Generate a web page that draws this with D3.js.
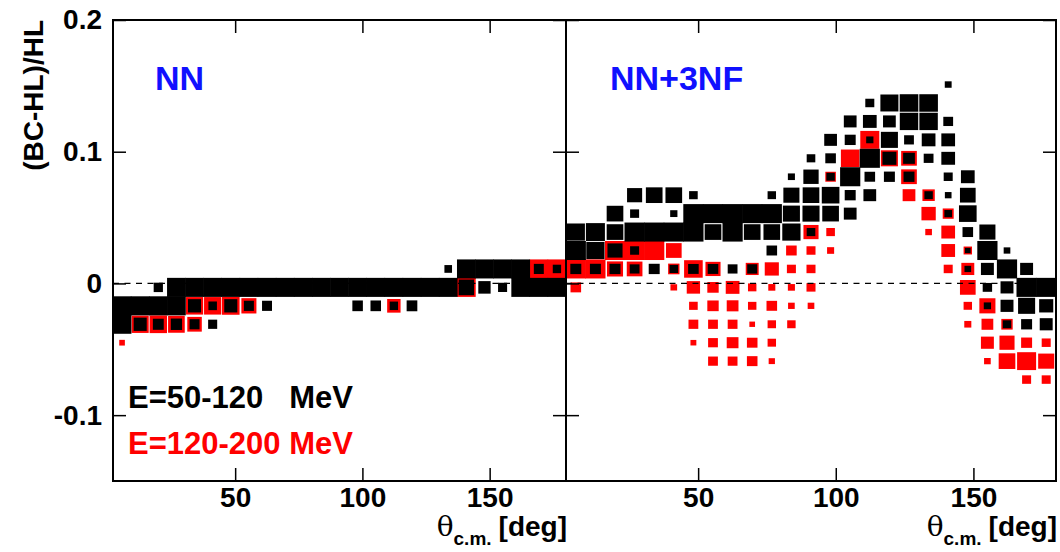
<!DOCTYPE html>
<html><head><meta charset="utf-8">
<script src="https://cdn.jsdelivr.net/npm/d3@7"></script>
<style>
body{margin:0;background:#fff}
svg text{font-family:"Liberation Sans",Arial,Helvetica,sans-serif;font-weight:bold}
</style>
</head><body>
<svg id="c" width="1060" height="552"></svg>
<script>
// ---- bin categories (centres) ----
const thetaCenters = [5.56,12.68,19.80,26.92,34.04,41.16,48.28,55.40,62.52,69.64,76.76,83.88,91.00,98.12,105.24,112.36,119.48,126.60,133.72,140.84,147.96,155.08,162.20,169.32,176.44];
const deltaCenters = [-0.143,-0.129,-0.115,-0.101,-0.087,-0.073,-0.059,-0.045,-0.031,-0.017,-0.003,0.011,0.025,0.039,0.053,0.067,0.081,0.095,0.109,0.123,0.137,0.151,0.165,0.179,0.193];
const thetaBinWidth = 7.12;
const deltaBinWidth = 0.014;
const xTicks = [50,100,150];
const yTicks = [0.2,0.1,0,-0.1];
const yTickLabels = ["0.2","0.1","0","-0.1"];
const panelLabels = ["NN","NN+3NF"];
const legendLabels = ["E=50-120   MeV","E=120-200 MeV"];

// cells: [theta bin, delta bin, relative box size]
const nnLow = [
 [18,11,.42],[19,11,1],[20,11,1],[21,11,1],[22,11,1],[23,11,.55],[24,11,.46],
 [2,10,.51],[3,10,1],[4,10,1],[5,10,1],[6,10,1],[7,10,1],[8,10,1],[9,10,1],[10,10,1],[11,10,1],[12,10,1],[13,10,1],[14,10,1],[15,10,1],[16,10,1],[17,10,1],[18,10,1],
 [19,10,.85],[20,10,.68],[21,10,.5],[22,10,1],[23,10,1],[24,10,1],
 [0,9,1],[1,9,1],[2,9,1],[3,9,1],[4,9,.72],[5,9,.47],[6,9,.72],[7,9,.55],[8,9,.55],[13,9,.58],[14,9,.58],[15,9,.46],[16,9,.59],
 [0,8,1],[1,8,.72],[2,8,.6],[3,8,.62],[4,8,.55],[5,8,.5]
];
const nnHigh = [
 [23,11,1],[24,11,1],[19,10,1],[4,9,.95],[5,9,.95],[6,9,.97],[7,9,.83],[15,9,.74],
 [1,8,.94],[2,8,.96],[3,8,.92],[4,8,.8],[0,7,.31]
];
const nn3nfLow = [
 [19,21,.35],
 [15,20,.46],[16,20,.92],[17,20,.95],[18,20,.95],
 [14,19,.65],[15,19,.7],[16,19,.65],[17,19,.94],[18,19,.94],[19,19,.5],
 [13,18,.65],[14,18,.56],[15,18,.37],[16,18,.87],[17,18,.5],[18,18,.7],[19,18,.7],
 [12,17,.44],[13,17,.54],[15,17,1],[16,17,.71],[17,17,.6],[18,17,.5],[19,17,.7],
 [11,16,.36],[12,16,.78],[13,16,.43],[14,16,1],[15,16,.54],[16,16,.56],[17,16,.56],[19,16,.46],[20,16,.7],
 [3,15,.77],[4,15,.85],[5,15,.85],[6,15,.44],[10,15,.43],[11,15,.82],[12,15,.85],[13,15,.9],[14,15,.56],[15,15,.65],[18,15,.43],[19,15,.34],[20,15,.8],
 [2,14,.85],[3,14,.46],[5,14,.37],[6,14,1],[7,14,1],[8,14,1],[9,14,1],[10,14,1],[11,14,.87],[12,14,.87],[13,14,.85],[14,14,.65],[19,14,.39],[20,14,.9],
 [0,13,.93],[1,13,.97],[2,13,.85],[3,13,1],[4,13,1],[5,13,1],[6,13,1],[7,13,.85],[8,13,1],[9,13,.85],[10,13,.85],[11,13,.93],[12,13,.44],[20,13,.54],[21,13,.82],
 [0,12,1],[1,12,.93],[2,12,.77],[3,12,.46],[10,12,.54],[20,12,.29],[21,12,1],[22,12,.34],
 [0,11,.56],[1,11,.56],[2,11,.56],[3,11,.5],[4,11,.56],[5,11,.44],[6,11,.54],[7,11,.54],[8,11,.5],[9,11,.51],[20,11,.34],[21,11,.66],[22,11,1],[23,11,.66],
 [21,10,.48],[22,10,.66],[23,10,1],[24,10,1],
 [21,9,.37],[22,9,.66],[23,9,.87],[24,9,.72],
 [22,8,.43],[23,8,.56],[24,8,.66]
];
const nn3nfHigh = [
 [15,18,.97],
 [14,17,.95],[16,17,.87],[17,17,.8],
 [13,16,.54],[17,16,.8],
 [17,15,.65],[18,15,.63],
 [18,14,.73],[19,14,.56],
 [12,13,.77],[13,13,.44],[18,13,.34],[19,13,.7],
 [2,12,1],[3,12,1],[4,12,1],[5,12,.8],[11,12,.54],[12,12,.46],[13,12,.36],[19,12,.7],[20,12,.43],
 [0,11,1],[1,11,1],[2,11,.82],[3,11,.8],[5,11,.58],[6,11,.95],[7,11,.77],[9,11,.66],[10,11,.72],[11,11,.46],[12,11,.46],[19,11,.46],[20,11,.66],
 [0,10,.54],[5,10,.34],[6,10,.68],[7,10,.58],[8,10,.7],[9,10,.43],[10,10,.36],[11,10,.36],[12,10,.46],[20,10,.8],
 [6,9,.44],[7,9,.58],[8,9,.6],[9,9,.43],[10,9,.54],[11,9,.34],[12,9,.34],[20,9,.43],[21,9,.82],
 [6,8,.5],[7,8,.5],[8,8,.5],[9,8,.29],[10,8,.43],[11,8,.43],[20,8,.36],[21,8,.6],[22,8,.58],
 [6,7,.3],[7,7,.5],[8,7,.6],[9,7,.54],[10,7,.43],[21,7,.66],[22,7,.77],[23,7,.56],[24,7,.46],
 [7,6,.5],[8,6,.5],[9,6,.54],[10,6,.32],[21,6,.34],[22,6,.85],[23,6,.97],[24,6,.82],
 [23,5,.46],[24,5,.46]
];

const svg = d3.select("#c");
const frameTop = 20, frameBottom = 481;
const panels = [
  {x0:113, x1:566, low:nnLow, high:nnHigh, label:panelLabels[0], lx:155, yLabels:true},
  {x0:566, x1:1056, low:nn3nfLow, high:nn3nfHigh, label:panelLabels[1], lx:610, yLabels:false}
];
const y = d3.scaleLinear().domain([-0.15,0.2]).range([frameBottom, frameTop]);

panels.forEach(p => {
  const x = d3.scaleLinear().domain([2,180]).range([p.x0, p.x1]);
  const bw = x(thetaBinWidth) - x(0);
  const bh = y(0) - y(deltaBinWidth);
  const g = svg.append("g");
  const pad = s => (s >= .99 ? .6 : 0);
  const draw = (cells, color) => {
    g.selectAll(null).data(cells).enter().append("rect")
      .attr("x", d => x(thetaCenters[d[0]]) - (d[2]*bw + pad(d[2]))/2)
      .attr("y", d => y(deltaCenters[d[1]]) - (d[2]*bh + pad(d[2]))/2)
      .attr("width", d => d[2]*bw + pad(d[2]))
      .attr("height", d => d[2]*bh + pad(d[2]))
      .attr("fill", color);
  };
  draw(p.high, "#ff0000");
  draw(p.low, "#000000");

  // zero line
  g.append("line").attr("x1", p.x0).attr("x2", p.x1).attr("y1", y(0)).attr("y2", y(0))
    .attr("stroke", "#000").attr("stroke-width", 1.2).attr("stroke-dasharray", "6,5.5");

  // axes (ticks inside)
  const fmt = d3.format("d");
  const ab = g.append("g").attr("transform", `translate(0,${frameBottom})`)
    .call(d3.axisBottom(x).tickValues(xTicks).tickSize(-13).tickPadding(6).tickFormat(fmt));
  const at = g.append("g").attr("transform", `translate(0,${frameTop})`)
    .call(d3.axisTop(x).tickValues(xTicks).tickSize(-13).tickFormat(""));
  const al = g.append("g").attr("transform", `translate(${p.x0},0)`)
    .call(d3.axisLeft(y).tickValues(yTicks).tickSize(-13).tickPadding(11)
      .tickFormat((d,i) => p.yLabels ? yTickLabels[i] : ""));
  const ar = g.append("g").attr("transform", `translate(${p.x1},0)`)
    .call(d3.axisRight(y).tickValues(yTicks).tickSize(-13).tickFormat(""));
  [ab,at,al,ar].forEach(a => {
    a.select(".domain").remove();
    a.selectAll(".tick line").attr("stroke","#000").attr("stroke-width",1.5);
    a.selectAll("text").attr("font-size",28).attr("fill","#000")
      .style("font-family",'"Liberation Sans",Arial,sans-serif').style("font-weight","bold");
  });

  // frame
  g.append("rect").attr("x", p.x0).attr("y", frameTop).attr("width", p.x1-p.x0).attr("height", frameBottom-frameTop)
    .attr("fill","none").attr("stroke","#000").attr("stroke-width",2);

  // panel label
  g.append("text").attr("x", p.lx).attr("y", 90).attr("font-size", 34).attr("fill", "#1010ff").text(p.label);

  // x title
  const t = g.append("text").attr("x", p.x1 + 1).attr("y", 536).attr("text-anchor","end").attr("font-size",28).attr("fill","#000");
  t.append("tspan").style("font-family",'"DejaVu Serif","Liberation Serif",serif').style("font-weight","normal").attr("font-size",28).text("θ");
  t.append("tspan").attr("dy", 9).attr("font-size", 19).text("c.m.");
  t.append("tspan").attr("dy", -9).attr("dx", 7).text("[deg]");
});

// y title
svg.append("text").attr("transform","translate(43,20) rotate(-90)").attr("text-anchor","end")
  .attr("font-size",28).attr("fill","#000").text("(BC-HL)/HL");

// legend
svg.append("text").attr("x",128).attr("y",408).attr("font-size",31).attr("fill","#000")
  .style("white-space","pre").attr("xml:space","preserve").text(legendLabels[0]);
svg.append("text").attr("x",128).attr("y",454).attr("font-size",31).attr("fill","#ff0000")
  .style("white-space","pre").attr("xml:space","preserve").text(legendLabels[1]);
</script>
</body></html>
